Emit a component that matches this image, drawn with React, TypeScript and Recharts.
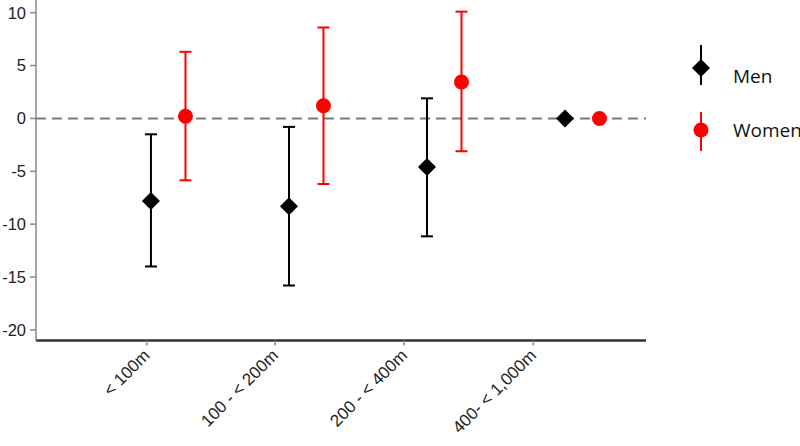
import React from 'react';
import { ScatterChart, Scatter, XAxis, YAxis, ErrorBar, ReferenceLine } from 'recharts';

// Categories and tick labels
const categories = ['< 100m', '100 - < 200m', '200 - < 400m', '400- < 1,000m'];
// Positions of the category labels on the numeric x axis
const categoryTickPositions = [-0.03, 0.9, 1.835, 2.77];
const yTicks = [-20, -15, -10, -5, 0, 5, 10];

// Men series (estimate, lower CI, upper CI)
const menEst = [-7.8, -8.3, -4.6, 0];
const menLow = [-14.0, -15.8, -11.15, null];
const menHigh = [-1.5, -0.8, 1.9, null];

// Women series (estimate, lower CI, upper CI)
const womenEst = [0.2, 1.2, 3.45, 0];
const womenLow = [-5.85, -6.2, -3.1, null];
const womenHigh = [6.3, 8.6, 10.1, null];

const WOMEN_OFFSET = 0.25;

const build = (est: number[], low: (number | null)[], high: (number | null)[], offset: number) =>
  est.map((y, i) => ({
    x: i + offset,
    y,
    err: low[i] == null || high[i] == null ? null : [y - (low[i] as number), (high[i] as number) - y],
  }));

const menData = build(menEst, menLow, menHigh, 0);
const womenData = build(womenEst, womenLow, womenHigh, WOMEN_OFFSET);

const Diamond = (props: any) => {
  const { cx, cy } = props;
  const r = 9;
  return <polygon points={`${cx},${cy - r} ${cx + r},${cy} ${cx},${cy + r} ${cx - r},${cy}`} fill="#000" />;
};

const Dot = (props: any) => {
  const { cx, cy } = props;
  return <circle cx={cx} cy={cy} r={7.5} fill="#ff0000" />;
};

const XTick = (props: any) => {
  const { x, y, payload } = props;
  const idx = categoryTickPositions.indexOf(payload.value);
  const label = idx >= 0 ? categories[idx] : '';
  return (
    <g transform={`translate(${x + 4},${y + 9}) rotate(-45)`}>
      <text x={0} y={0} textAnchor="end" fill="#222" fontSize={17} fontFamily="'Liberation Sans', Arial, sans-serif">
        {label}
      </text>
    </g>
  );
};

export default function App() {
  return (
    <div style={{ position: 'absolute', left: 0, top: 0, width: 800, height: 446, background: '#fff' }}>
      <ScatterChart width={800} height={446} margin={{ top: 0, right: 154, left: 0, bottom: 5.5 }}>
        <XAxis
          type="number"
          dataKey="x"
          domain={[-0.833, 3.587]}
          ticks={categoryTickPositions}
          interval={0}
          allowDataOverflow
          height={100}
          tickSize={5}
          tickMargin={2}
          tick={<XTick />}
          tickLine={{ stroke: '#888', strokeWidth: 1.5 }}
          axisLine={{ stroke: '#333', strokeWidth: 2.5 }}
        />
        <YAxis
          type="number"
          dataKey="y"
          domain={[-21, 11.2]}
          ticks={yTicks}
          interval={0}
          allowDataOverflow
          width={36}
          tickSize={6}
          tickMargin={4}
          tick={{ fill: '#222', fontSize: 16.5, fontFamily: "'Liberation Sans', Arial, sans-serif" }}
          tickLine={{ stroke: '#888', strokeWidth: 1.5 }}
          axisLine={{ stroke: '#888', strokeWidth: 1.5 }}
        />
        <ReferenceLine y={0} stroke="#777" strokeWidth={2} strokeDasharray="10 6" />
        <Scatter name="Men" data={menData} shape={<Diamond />} isAnimationActive={false}>
          <ErrorBar dataKey="err" direction="y" width={6} stroke="#000" strokeWidth={2} isAnimationActive={false} />
        </Scatter>
        <Scatter name="Women" data={womenData} shape={<Dot />} isAnimationActive={false}>
          <ErrorBar dataKey="err" direction="y" width={6} stroke="#ff0000" strokeWidth={2} isAnimationActive={false} />
        </Scatter>
      </ScatterChart>
      <svg
        width={800}
        height={446}
        style={{ position: 'absolute', left: 0, top: 0, pointerEvents: 'none' }}
      >
        <line x1={701} y1={45} x2={701} y2={85} stroke="#000" strokeWidth={2} />
        <polygon points="701,59 710,68 701,77 692,68" fill="#000" />
        <text x={733} y={83} fontSize={19} fill="#111" fontFamily="'Open Sans', sans-serif">Men</text>
        <line x1={701} y1={112} x2={701} y2={151} stroke="#ff0000" strokeWidth={2} />
        <circle cx={701} cy={130} r={7.5} fill="#ff0000" />
        <text x={733} y={137} fontSize={19} fill="#111" fontFamily="'Open Sans', sans-serif">Women</text>
      </svg>
    </div>
  );
}
